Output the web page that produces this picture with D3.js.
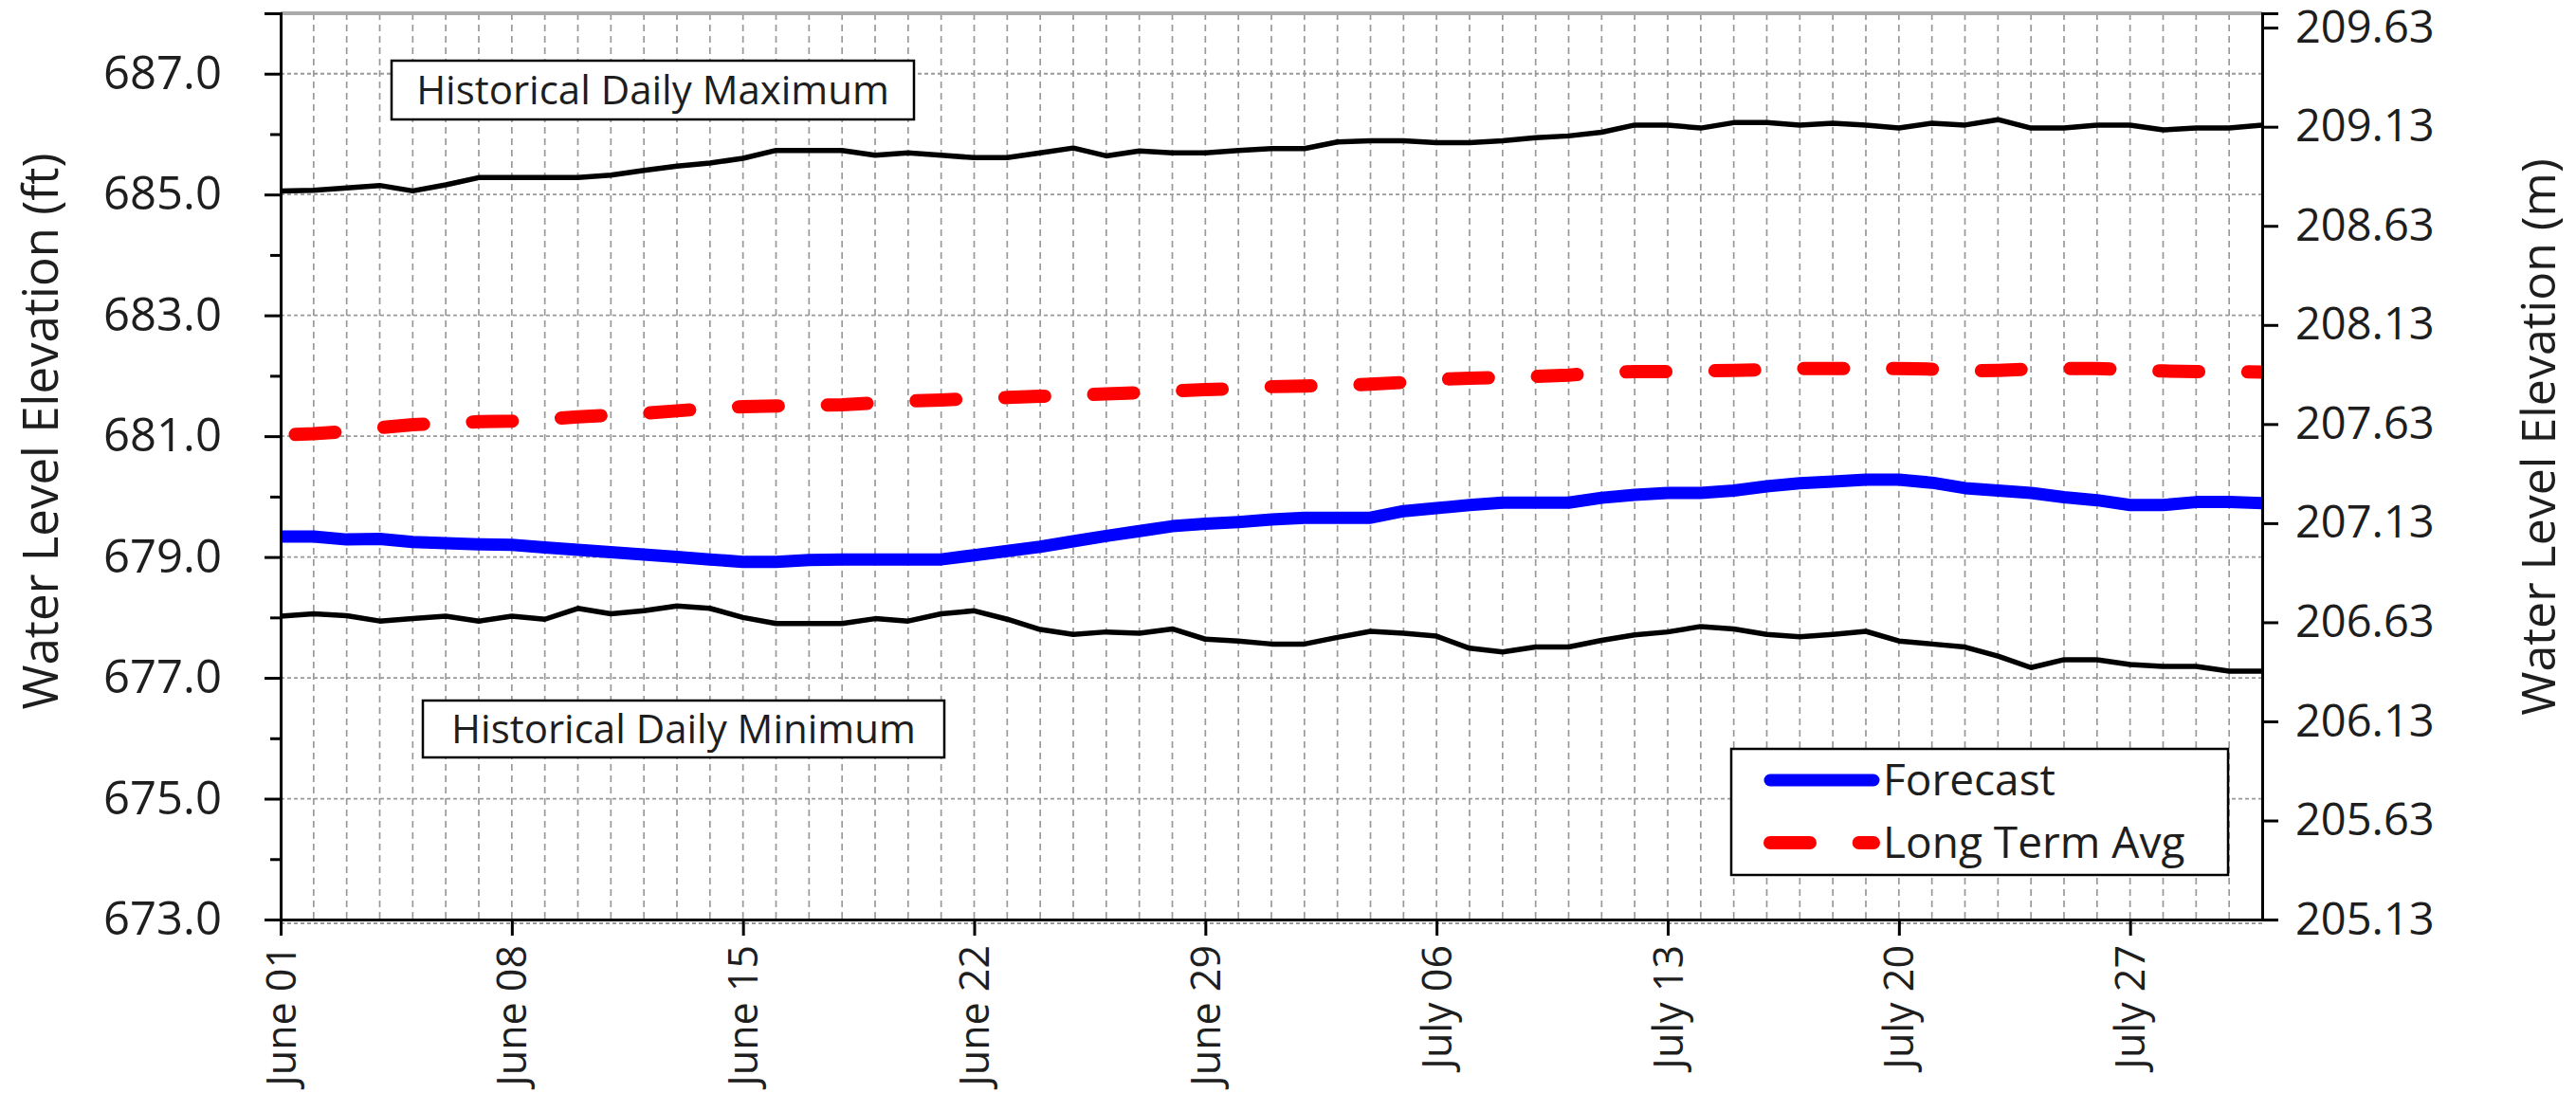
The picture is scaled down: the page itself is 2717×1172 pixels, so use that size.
<!DOCTYPE html>
<html>
<head>
<meta charset="utf-8">
<script src="https://cdn.jsdelivr.net/npm/d3@7"></script>
<style>
  html, body { margin: 0; padding: 0; background: #fff; }
  svg { display: block; font-family: "Open Sans", "Noto Sans", sans-serif; }
</style>
</head>
<body>
<svg id="chart" width="2717" height="1172"></svg>
<script>
// ---------- DATA ----------
const startDate = "2024-06-01";
const endDate = "2024-07-31";
const xTickDates = ["2024-06-01","2024-06-08","2024-06-15","2024-06-22","2024-06-29","2024-07-06","2024-07-13","2024-07-20","2024-07-27"];

const histMax = [685.06,685.07,685.11,685.15,685.06,685.16,685.28,685.28,685.28,685.28,
  685.32,685.40,685.47,685.52,685.60,685.73,685.73,685.73,685.65,685.69,
  685.65,685.61,685.61,685.69,685.77,685.64,685.72,685.69,685.69,685.73,
  685.76,685.76,685.87,685.89,685.89,685.86,685.86,685.89,685.94,685.97,
  686.03,686.15,686.15,686.10,686.19,686.19,686.15,686.18,686.15,686.10,
  686.18,686.15,686.24,686.10,686.10,686.15,686.15,686.07,686.10,686.10,686.15];

const histMin = [678.02,678.06,678.03,677.94,677.98,678.02,677.94,678.02,677.97,678.15,
  678.06,678.11,678.19,678.15,678.00,677.90,677.90,677.90,677.98,677.94,
  678.06,678.11,677.97,677.80,677.72,677.76,677.74,677.81,677.64,677.61,
  677.56,677.56,677.67,677.77,677.74,677.69,677.49,677.43,677.51,677.51,
  677.62,677.71,677.76,677.85,677.81,677.72,677.68,677.72,677.77,677.61,
  677.56,677.51,677.36,677.17,677.30,677.30,677.22,677.19,677.19,677.11,677.11];

const forecast = [679.34,679.34,679.29,679.30,679.25,679.23,679.21,679.20,679.16,679.12,
  679.08,679.04,679.00,678.96,678.92,678.92,678.95,678.96,678.96,678.96,
  678.96,679.03,679.10,679.17,679.26,679.35,679.43,679.51,679.55,679.58,
  679.62,679.65,679.65,679.65,679.76,679.81,679.86,679.90,679.90,679.90,
  679.98,680.03,680.06,680.06,680.10,680.17,680.22,680.25,680.28,680.28,
  680.23,680.14,680.10,680.06,679.99,679.94,679.86,679.86,679.91,679.91,679.89];

const longTermAvg = [681.02,681.04,681.08,681.14,681.19,681.21,681.24,681.25,681.28,681.32,
  681.35,681.38,681.42,681.46,681.49,681.50,681.51,681.52,681.55,681.58,
  681.60,681.62,681.64,681.66,681.68,681.70,681.72,681.75,681.77,681.79,
  681.82,681.83,681.84,681.86,681.89,681.94,681.96,681.97,681.99,682.01,
  682.05,682.07,682.07,682.08,682.09,682.10,682.12,682.12,682.12,682.12,
  682.11,682.08,682.09,682.11,682.12,682.12,682.10,682.08,682.07,682.07,682.06];

const ftMajorTicks = [673, 675, 677, 679, 681, 683, 685, 687];
const ftMinorTicks = [674, 676, 678, 680, 682, 684, 686, 688];
const mTicks = [205.13, 205.63, 206.13, 206.63, 207.13, 207.63, 208.13, 208.63, 209.13, 209.63];
const ftDomain = [673, 688];
const ftToM = 0.3048;

const labels = {
  yLeft: "Water Level Elevation (ft)",
  yRight: "Water Level Elevation (m)",
  maxNote: "Historical Daily Maximum",
  minNote: "Historical Daily Minimum",
  forecast: "Forecast",
  lta: "Long Term Avg"
};

// ---------- LAYOUT ----------
const L = 296, R = 2386, T = 14, B = 970;
const svg = d3.select("#chart");
const parse = d3.utcParse("%Y-%m-%d");
const days = d3.utcDay.range(parse(startDate), d3.utcDay.offset(parse(endDate), 1));

const x = d3.scaleUtc().domain([parse(startDate), parse(endDate)]).range([L, R]);
const y = d3.scaleLinear().domain(ftDomain).range([B, T]);
const yM = d3.scaleLinear().domain(ftDomain.map(v => v * ftToM)).range([B, T]);

const textColor = "#1e1e1e";
const gridColor = "#999999";

svg.append("defs").append("clipPath").attr("id", "plotclip")
  .append("rect").attr("x", L).attr("y", T).attr("width", R - L).attr("height", B - T);

// gridlines
const grid = svg.append("g");
grid.selectAll("line.v").data(days.slice(1, -1)).join("line")
  .attr("x1", d => x(d)).attr("x2", d => x(d)).attr("y1", T).attr("y2", B)
  .attr("stroke", gridColor).attr("stroke-width", 1.7).attr("stroke-dasharray", "7,5");
grid.selectAll("line.h").data(ftMajorTicks).join("line")
  .attr("x1", L).attr("x2", R).attr("y1", d => y(d) + (d === ftDomain[0] ? 4 : 0)).attr("y2", d => y(d) + (d === ftDomain[0] ? 4 : 0))
  .attr("stroke", gridColor).attr("stroke-width", 1.8).attr("stroke-dasharray", "4,3");

svg.append("line").attr("x1", L).attr("x2", R).attr("y1", T).attr("y2", T)
  .attr("stroke", "#aaaaaa").attr("stroke-width", 4);

// lines
const line = vals => d3.line().x((d, i) => x(days[i])).y(d => y(d))(vals);
const plot = svg.append("g").attr("clip-path", "url(#plotclip)");
plot.append("path").attr("d", line(histMax)).attr("fill", "none")
  .attr("stroke", "#000").attr("stroke-width", 5.5).attr("stroke-linejoin", "round");
plot.append("path").attr("d", line(histMin)).attr("fill", "none")
  .attr("stroke", "#000").attr("stroke-width", 5.5).attr("stroke-linejoin", "round");
plot.append("path").attr("d", line(longTermAvg)).attr("fill", "none")
  .attr("stroke", "#ff0000").attr("stroke-width", 14).attr("stroke-linecap", "round")
  .attr("stroke-dasharray", "42,51.7").attr("stroke-dashoffset", 78.2);
plot.append("path").attr("d", line(forecast)).attr("fill", "none")
  .attr("stroke", "#0000ff").attr("stroke-width", 13).attr("stroke-linejoin", "round");

// axes
const axL = svg.append("g").attr("transform", `translate(${L},0)`)
  .call(d3.axisLeft(y).tickValues(ftMajorTicks).tickFormat(d3.format(".1f")).tickSize(17).tickPadding(45));
const axLm = svg.append("g").attr("transform", `translate(${L},0)`)
  .call(d3.axisLeft(y).tickValues(ftMinorTicks).tickFormat("").tickSize(11));
const axR = svg.append("g").attr("transform", `translate(${R},0)`)
  .call(d3.axisRight(yM).tickValues(mTicks).tickFormat(d3.format(".2f")).tickSize(17).tickPadding(18));
const axB = svg.append("g").attr("transform", `translate(0,${B})`)
  .call(d3.axisBottom(x).tickValues(xTickDates.map(parse)).tickFormat(d3.utcFormat("%B %d")).tickSize(17).tickSizeOuter(0));

[axL, axLm, axR, axB].forEach(a => {
  a.select(".domain").attr("stroke", "#000").attr("stroke-width", 3);
  a.selectAll(".tick line").attr("stroke", "#000").attr("stroke-width", 3);
  a.selectAll("text").attr("fill", textColor).style("font-family", '"Open Sans", sans-serif');
});
axL.selectAll("text").style("font-size", "49px");
axR.selectAll("text").style("font-size", "47px");
axLm.select(".domain").remove();
axB.selectAll(".tick text")
  .style("font-size", "43px")
  .attr("transform", "rotate(-90)")
  .attr("text-anchor", "end")
  .attr("x", -27).attr("y", 0).attr("dy", "0.35em");

// axis titles
svg.append("text").attr("transform", `translate(43,455) rotate(-90)`)
  .attr("text-anchor", "middle").attr("dy", "0.35em")
  .style("font-size", "51px").attr("fill", textColor).text(labels.yLeft);
svg.append("text").attr("transform", `translate(2677,461) rotate(-90)`)
  .attr("text-anchor", "middle").attr("dy", "0.35em")
  .style("font-size", "50px").attr("fill", textColor).text(labels.yRight);

// annotation boxes
function note(x0, y0, w, h, txt) {
  const g = svg.append("g");
  g.append("rect").attr("x", x0).attr("y", y0).attr("width", w).attr("height", h)
    .attr("fill", "#fff").attr("stroke", "#000").attr("stroke-width", 2.5);
  g.append("text").attr("x", x0 + w / 2).attr("y", y0 + h / 2).attr("dy", "0.35em")
    .attr("text-anchor", "middle").style("font-size", "42px").attr("fill", textColor).text(txt);
}
note(413, 64, 551, 62, labels.maxNote);
note(446, 739, 550, 60, labels.minNote);

// legend
const lg = svg.append("g");
lg.append("rect").attr("x", 1826).attr("y", 790).attr("width", 524).attr("height", 133)
  .attr("fill", "#fff").attr("stroke", "#000").attr("stroke-width", 2.5);
lg.append("line").attr("x1", 1867).attr("x2", 1976).attr("y1", 823).attr("y2", 823)
  .attr("stroke", "#0000ff").attr("stroke-width", 13).attr("stroke-linecap", "round");
lg.append("line").attr("x1", 1867).attr("x2", 1976).attr("y1", 889).attr("y2", 889)
  .attr("stroke", "#ff0000").attr("stroke-width", 14).attr("stroke-linecap", "round")
  .attr("stroke-dasharray", "42,51.7");
lg.append("text").attr("x", 1986).attr("y", 823).attr("dy", "0.35em")
  .style("font-size", "46px").attr("fill", textColor).text(labels.forecast);
lg.append("text").attr("x", 1986).attr("y", 889).attr("dy", "0.35em")
  .style("font-size", "46px").attr("fill", textColor).text(labels.lta);
</script>
</body>
</html>
